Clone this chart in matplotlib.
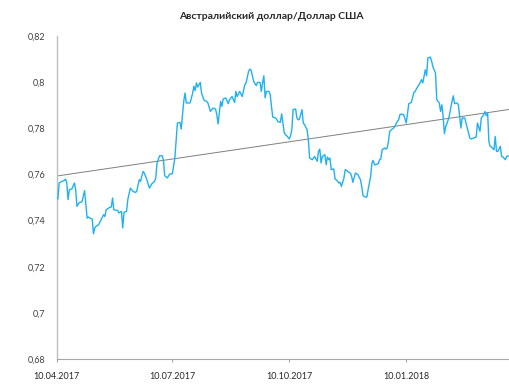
import numpy as np
import pandas as pd
import matplotlib
matplotlib.use("Agg")
import matplotlib.pyplot as plt
import matplotlib.dates as mdates
from matplotlib.ticker import FuncFormatter

plt.rcParams['font.family'] = ['Lato', 'DejaVu Sans']

# AUD/USD daily rate, days counted from 10.04.2017
start = pd.Timestamp("2017-04-10")
days = [
    0, 1, 2, 4, 6, 7, 8, 9, 10, 12, 14, 15, 16, 18, 19, 20, 22, 24, 25, 26,
    28, 29, 30, 31, 33, 35, 37, 38, 39, 41, 43, 44, 45, 48, 49, 51, 52, 53, 55, 56,
    58, 60, 62, 63, 65, 66, 68, 69, 71, 73, 75, 77, 78, 79, 81, 83, 84, 85, 87, 89,
    91, 93, 95, 97, 98, 100, 101, 102, 105, 107, 108, 109, 110, 111, 113, 114, 116, 118, 119, 121,
    123, 125, 126, 127, 129, 130, 131, 133, 135, 136, 138, 140, 141, 142, 144, 146, 148, 149, 151, 152,
    153, 155, 157, 158, 160, 161, 162, 163, 164, 165, 167, 168, 169, 170, 172, 173, 174, 176, 177, 178,
    179, 180, 181, 183, 184, 185, 186, 188, 189, 190, 191, 193, 194, 195, 197, 198, 199, 201, 202, 203,
    205, 206, 207, 208, 209, 211, 212, 213, 214, 215, 216, 218, 219, 220, 222, 223, 224, 226, 227, 228,
    229, 231, 232, 233, 235, 236, 237, 239, 240, 241, 243, 244, 245, 247, 248, 249, 250, 251, 253, 254,
    255, 256, 258, 259, 260, 261, 262, 264, 265, 266, 268, 269, 270, 271, 273, 275, 276, 277, 279, 281,
    282, 283, 285, 286, 287, 288, 289, 290, 291, 292, 294, 295, 296, 298, 299, 300, 301, 302, 303, 304,
    305, 306, 308, 309, 311, 312, 313, 315, 316, 317, 318, 319, 320, 321, 323, 325, 326, 328, 330, 331,
    333, 334, 335, 336, 337, 338, 339, 340, 341, 342, 344, 345, 346, 347, 349, 350, 351, 353, 354, 355,
    357,
]
rate = [
    0.7495, 0.7494, 0.7563, 0.7570, 0.7574, 0.7580, 0.7563, 0.7491, 0.7534, 0.7537,
    0.7563, 0.7534, 0.7462, 0.7479, 0.7479, 0.7483, 0.7530, 0.7411, 0.7416, 0.7411,
    0.7407, 0.7343, 0.7368, 0.7375, 0.7382, 0.7404, 0.7426, 0.7418, 0.7447, 0.7455,
    0.7459, 0.7498, 0.7447, 0.7444, 0.7433, 0.7440, 0.7368, 0.7436, 0.7440, 0.7491,
    0.7541, 0.7527, 0.7522, 0.7527, 0.7577, 0.7570, 0.7613, 0.7606, 0.7577, 0.7541,
    0.7560, 0.7570, 0.7585, 0.7650, 0.7681, 0.7681, 0.7664, 0.7595, 0.7585, 0.7602,
    0.7603, 0.7671, 0.7823, 0.7826, 0.7797, 0.7917, 0.7953, 0.7910, 0.7910, 0.7953,
    0.7982, 0.7964, 0.7997, 0.7979, 0.7999, 0.7953, 0.7921, 0.7917, 0.7910, 0.7873,
    0.7888, 0.7884, 0.7859, 0.7819, 0.7917, 0.7895, 0.7927, 0.7932, 0.7907, 0.7924,
    0.7938, 0.7912, 0.7960, 0.7938, 0.7960, 0.7938, 0.7989, 0.7997, 0.8047, 0.8057,
    0.8051, 0.8003, 0.7985, 0.7999, 0.7999, 0.7960, 0.7997, 0.8028, 0.7932, 0.7960,
    0.7960, 0.7946, 0.7895, 0.7849, 0.7845, 0.7840, 0.7829, 0.7826, 0.7863, 0.7823,
    0.7782, 0.7772, 0.7768, 0.7754, 0.7768, 0.7794, 0.7881, 0.7884, 0.7845, 0.7837,
    0.7840, 0.7881, 0.7823, 0.7816, 0.7794, 0.7751, 0.7671, 0.7664, 0.7671, 0.7678,
    0.7657, 0.7700, 0.7710, 0.7650, 0.7678, 0.7686, 0.7642, 0.7676, 0.7664, 0.7671,
    0.7621, 0.7624, 0.7580, 0.7577, 0.7563, 0.7566, 0.7548, 0.7585, 0.7621, 0.7618,
    0.7613, 0.7606, 0.7592, 0.7566, 0.7606, 0.7603, 0.7599, 0.7577, 0.7548, 0.7508,
    0.7502, 0.7502, 0.7534, 0.7592, 0.7650, 0.7661, 0.7642, 0.7642, 0.7647, 0.7664,
    0.7667, 0.7707, 0.7715, 0.7710, 0.7715, 0.7743, 0.7787, 0.7797, 0.7801, 0.7808,
    0.7830, 0.7837, 0.7859, 0.7862, 0.7859, 0.7823, 0.7866, 0.7907, 0.7912, 0.7956,
    0.7960, 0.7971, 0.7989, 0.7999, 0.8011, 0.7997, 0.8025, 0.8054, 0.8028, 0.8105,
    0.8109, 0.8090, 0.8066, 0.8040, 0.7924, 0.7917, 0.7910, 0.7873, 0.7902, 0.7852,
    0.7777, 0.7806, 0.7837, 0.7859, 0.7917, 0.7941, 0.7907, 0.7910, 0.7902, 0.7852,
    0.7801, 0.7845, 0.7845, 0.7845, 0.7801, 0.7758, 0.7754, 0.7758, 0.7762, 0.7823,
    0.7787, 0.7845, 0.7852, 0.7859, 0.7873, 0.7855, 0.7866, 0.7743, 0.7722, 0.7719,
    0.7707, 0.7765, 0.7700, 0.7700, 0.7722, 0.7678, 0.7676, 0.7664, 0.7678, 0.7681,
    0.7678,
]
tick_dates = ["2017-04-10", "2017-07-10", "2017-10-10", "2018-01-10"]
y_ticks = [0.68, 0.70, 0.72, 0.74, 0.76, 0.78, 0.80, 0.82]
title = "Австралийский доллар/Доллар США"

dates = start + pd.to_timedelta(days, unit="D")
x = mdates.date2num(dates)
rate = np.array(rate)

# linear trend over the whole period
k, b = np.polyfit(x, rate, 1)

fig = plt.figure(figsize=(5.1, 3.9), dpi=100)
ax = fig.add_axes([0.111, 0.0795, 0.889, 0.828])

ax.plot(x, rate, color="#1fb1f0", lw=1.0, zorder=3)
ax.plot(x[[0, -1]], k * x[[0, -1]] + b, color="#7f7f7f", lw=0.7, zorder=2)

ax.set_xlim(x[0], x[0] + 356.6)
ax.set_ylim(0.68, 0.82)

ax.set_xticks(mdates.date2num(pd.to_datetime(tick_dates)))
ax.xaxis.set_major_formatter(mdates.DateFormatter("%d.%m.%Y"))
ax.set_yticks(y_ticks)
ax.yaxis.set_major_formatter(FuncFormatter(lambda v, p: f"{v:g}".replace(".", ",")))

for side in ["top", "right"]:
    ax.spines[side].set_visible(False)
ax.spines["left"].set_color("#bfbfbf")
ax.spines["bottom"].set_color("#a6a6a6")
ax.spines["left"].set_linewidth(1.0)
ax.spines["bottom"].set_linewidth(0.8)

ax.tick_params(axis="y", length=0, pad=8, labelsize=6.5, labelcolor="#404040")
ax.tick_params(axis="x", length=2.5, width=0.8, color="#a6a6a6", pad=7,
               labelsize=6.5, labelcolor="#262626")

fig.text(271.5 / 510, 1 - 16.5 / 390, title, ha="center", va="center",
         fontsize=7.5, fontweight="bold", color="#262626")

fig.savefig("out.png", dpi=100)
